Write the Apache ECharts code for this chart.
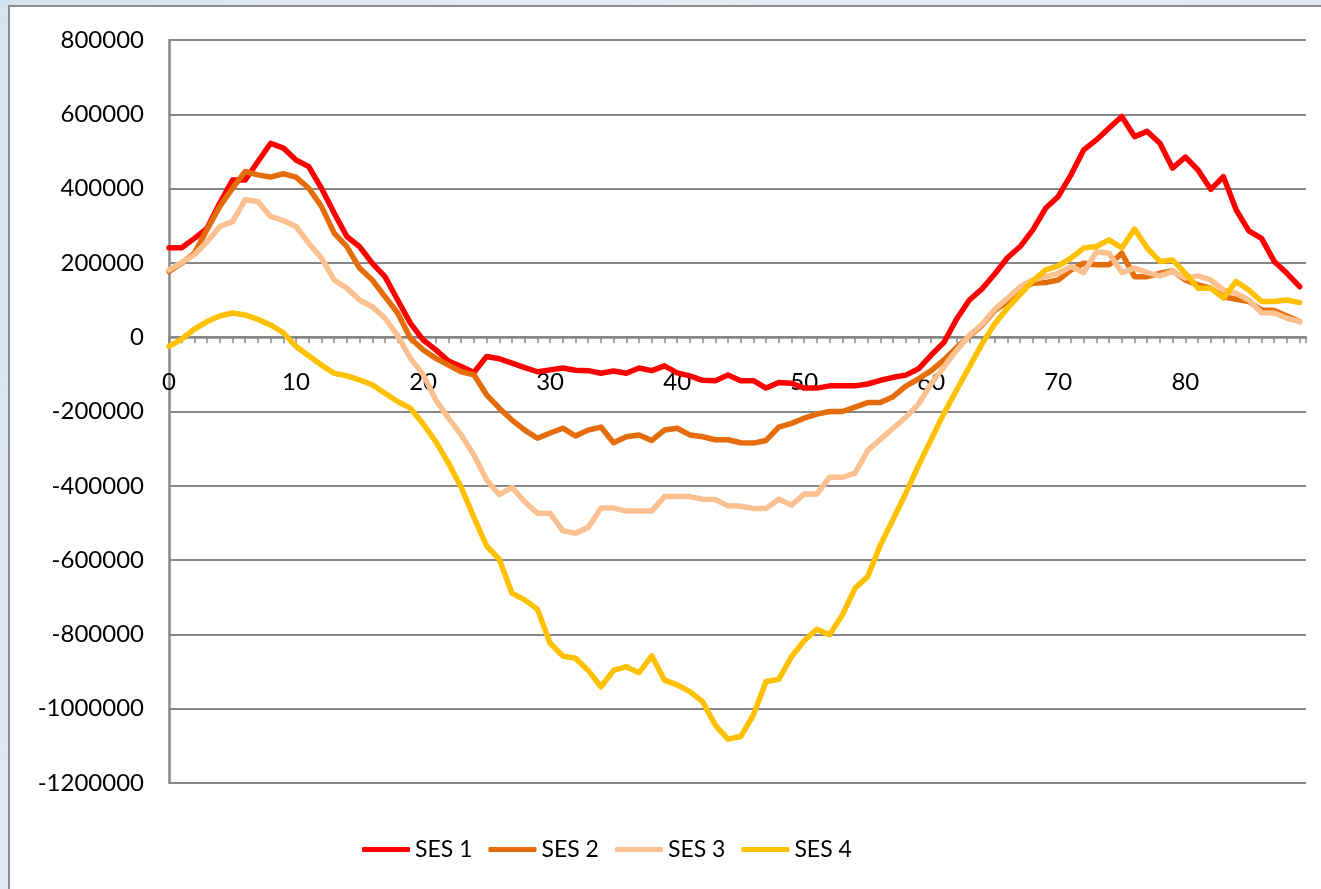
<!DOCTYPE html>
<html>
<head>
<meta charset="utf-8">
<title>SES 1–4</title>
<script src="https://cdn.jsdelivr.net/npm/echarts@6/dist/echarts.min.js"></script>
<style>
  html, body { margin: 0; padding: 0; width: 1321px; height: 889px; overflow: hidden; }
  body { background: linear-gradient(115deg, #d6e2f0 0%, #e4ecf6 40%, #dae4f1 100%); }
  #frame {
    position: absolute; left: 8px; top: 5px; width: 1330px; height: 900px;
    background: #ffffff; border: 2px solid #8d8d8d;
  }
  #chart { position: absolute; left: 0; top: 0; width: 1321px; height: 889px; }
</style>
</head>
<body>
<div id="frame"></div>
<div id="chart"></div>
<script>
// Step index along the horizontal axis
const steps = Array.from({ length: 90 }, (_, i) => i);

const ses1 = [
  241000, 241000, 266000, 293000, 361000, 423000, 423000, 473000, 522000, 509000,
  477000, 459000, 401000, 334000, 271000, 244000, 199000, 163000, 100000, 38000,
  -7000, -34000, -64000, -79000, -95000, -52000, -58000, -70000, -82000, -93000,
  -88000, -83000, -89000, -90000, -97000, -91000, -97000, -83000, -90000, -77000,
  -96000, -104000, -116000, -117000, -102000, -117000, -117000, -137000, -122000, -124000,
  -137000, -137000, -131000, -131000, -131000, -126000, -116000, -108000, -102000, -85000,
  -48000, -14000, 49000, 100000, 130000, 170000, 214000, 244000, 289000, 347000,
  379000, 437000, 504000, 531000, 563000, 594000, 540000, 554000, 522000, 455000,
  485000, 450000, 398000, 432000, 343000, 286000, 266000, 204000, 172000, 136000
];

const ses2 = [
  177000, 199000, 226000, 290000, 352000, 401000, 446000, 437000, 431000, 440000,
  431000, 401000, 352000, 280000, 244000, 186000, 154000, 109000, 65000, -3000,
  -34000, -57000, -75000, -93000, -101000, -155000, -191000, -223000, -250000, -272000,
  -258000, -245000, -266000, -250000, -242000, -284000, -268000, -263000, -278000, -250000,
  -245000, -263000, -268000, -276000, -276000, -284000, -285000, -278000, -242000, -232000,
  -218000, -207000, -200000, -200000, -188000, -176000, -176000, -160000, -132000, -112000,
  -90000, -61000, -28000, 3000, 32000, 72000, 95000, 128000, 145000, 147000,
  154000, 181000, 199000, 195000, 195000, 226000, 163000, 163000, 172000, 178000,
  154000, 141000, 132000, 109000, 102000, 96000, 73000, 72000, 57000, 42000
];

const ses3 = [
  181000, 201000, 222000, 257000, 298000, 311000, 370000, 365000, 325000, 314000,
  298000, 253000, 213000, 154000, 132000, 100000, 82000, 51000, 4000, -57000,
  -100000, -169000, -218000, -263000, -317000, -384000, -424000, -404000, -443000, -474000,
  -474000, -521000, -528000, -512000, -460000, -460000, -468000, -468000, -468000, -429000,
  -429000, -429000, -436000, -437000, -454000, -455000, -461000, -461000, -436000, -452000,
  -422000, -422000, -377000, -377000, -366000, -305000, -275000, -245000, -215000, -180000,
  -125000, -80000, -35000, 5000, 35000, 75000, 105000, 136000, 154000, 163000,
  172000, 190000, 174000, 230000, 226000, 174000, 186000, 174000, 165000, 177000,
  159000, 165000, 154000, 127000, 118000, 100000, 66000, 65000, 51000, 42000
];

const ses4 = [
  -25000, -5000, 22000, 42000, 57000, 65000, 60000, 48000, 33000, 12000,
  -25000, -50000, -75000, -97000, -104000, -115000, -128000, -151000, -173000, -191000,
  -233000, -281000, -339000, -404000, -485000, -562000, -598000, -689000, -707000, -732000,
  -824000, -858000, -864000, -897000, -941000, -897000, -887000, -903000, -858000, -923000,
  -936000, -954000, -981000, -1044000, -1082000, -1075000, -1017000, -927000, -921000, -860000,
  -817000, -786000, -801000, -748000, -676000, -644000, -559000, -490000, -420000, -345000,
  -275000, -205000, -142000, -80000, -18000, 36000, 78000, 115000, 152000, 181000,
  192000, 213000, 240000, 244000, 262000, 240000, 291000, 240000, 204000, 208000,
  172000, 132000, 132000, 105000, 150000, 127000, 96000, 96000, 100000, 93000
];

const seriesNames = ['SES 1', 'SES 2', 'SES 3', 'SES 4'];
const seriesColors = ['#ff0000', '#e46c0a', '#fac090', '#ffc000'];
const seriesValues = [ses1, ses2, ses3, ses4];

const Y_MIN = -1200000;
const Y_MAX = 800000;

const FONT = 'Lato, "Liberation Sans", sans-serif';
const AXIS_GREY = '#878787';

// Plot box in pixels
const GRID = { left: 169, right: 15, top: 40, bottom: 106 };
const PLOT_H = 889 - GRID.top - GRID.bottom;
// Shift the horizontal axis (line, ticks and labels together) up to the zero line
const zeroShift = -PLOT_H * (0 - Y_MIN) / (Y_MAX - Y_MIN);

const chart = echarts.init(document.getElementById('chart'), null, { renderer: 'canvas' });

chart.setOption({
  animation: false,
  backgroundColor: 'transparent',
  textStyle: { fontFamily: FONT },
  grid: Object.assign({ containLabel: false }, GRID),
  legend: {
    left: 357,
    top: 833,
    icon: 'roundRect',
    itemWidth: 48,
    itemHeight: 5,
    itemGap: 16,
    textStyle: { fontFamily: FONT, fontSize: 23, color: '#000000' },
    data: seriesNames
  },
  xAxis: {
    type: 'value',
    min: 0,
    max: 89.5,
    interval: 10,
    offset: zeroShift,
    axisLine: { onZero: false, lineStyle: { color: AXIS_GREY, width: 2.5 } },
    axisTick: { show: true, length: 6, lineStyle: { color: AXIS_GREY, width: 1.5 } },
    minorTick: { show: true, splitNumber: 10, length: 6, lineStyle: { color: AXIS_GREY, width: 1.5 } },
    axisLabel: {
      showMaxLabel: false,
      margin: 33,
      fontFamily: FONT,
      fontSize: 24,
      color: '#000000'
    },
    splitLine: { show: false }
  },
  yAxis: {
    type: 'value',
    min: Y_MIN,
    max: Y_MAX,
    interval: 200000,
    axisLine: { show: true, lineStyle: { color: AXIS_GREY, width: 2.5 } },
    axisTick: { show: false },
    axisLabel: {
      margin: 25,
      fontFamily: FONT,
      fontSize: 24,
      color: '#000000',
      formatter: (v) => String(v)
    },
    splitLine: { show: true, lineStyle: { color: AXIS_GREY, width: 2 } }
  },
  series: seriesNames.map((name, k) => ({
    name,
    type: 'line',
    color: seriesColors[k],
    data: steps.map((x, i) => [x, seriesValues[k][i]]),
    showSymbol: false,
    symbol: 'none',
    smooth: false,
    lineStyle: { width: 5.5, color: seriesColors[k], cap: 'round', join: 'round' }
  }))
});
</script>
</body>
</html>
